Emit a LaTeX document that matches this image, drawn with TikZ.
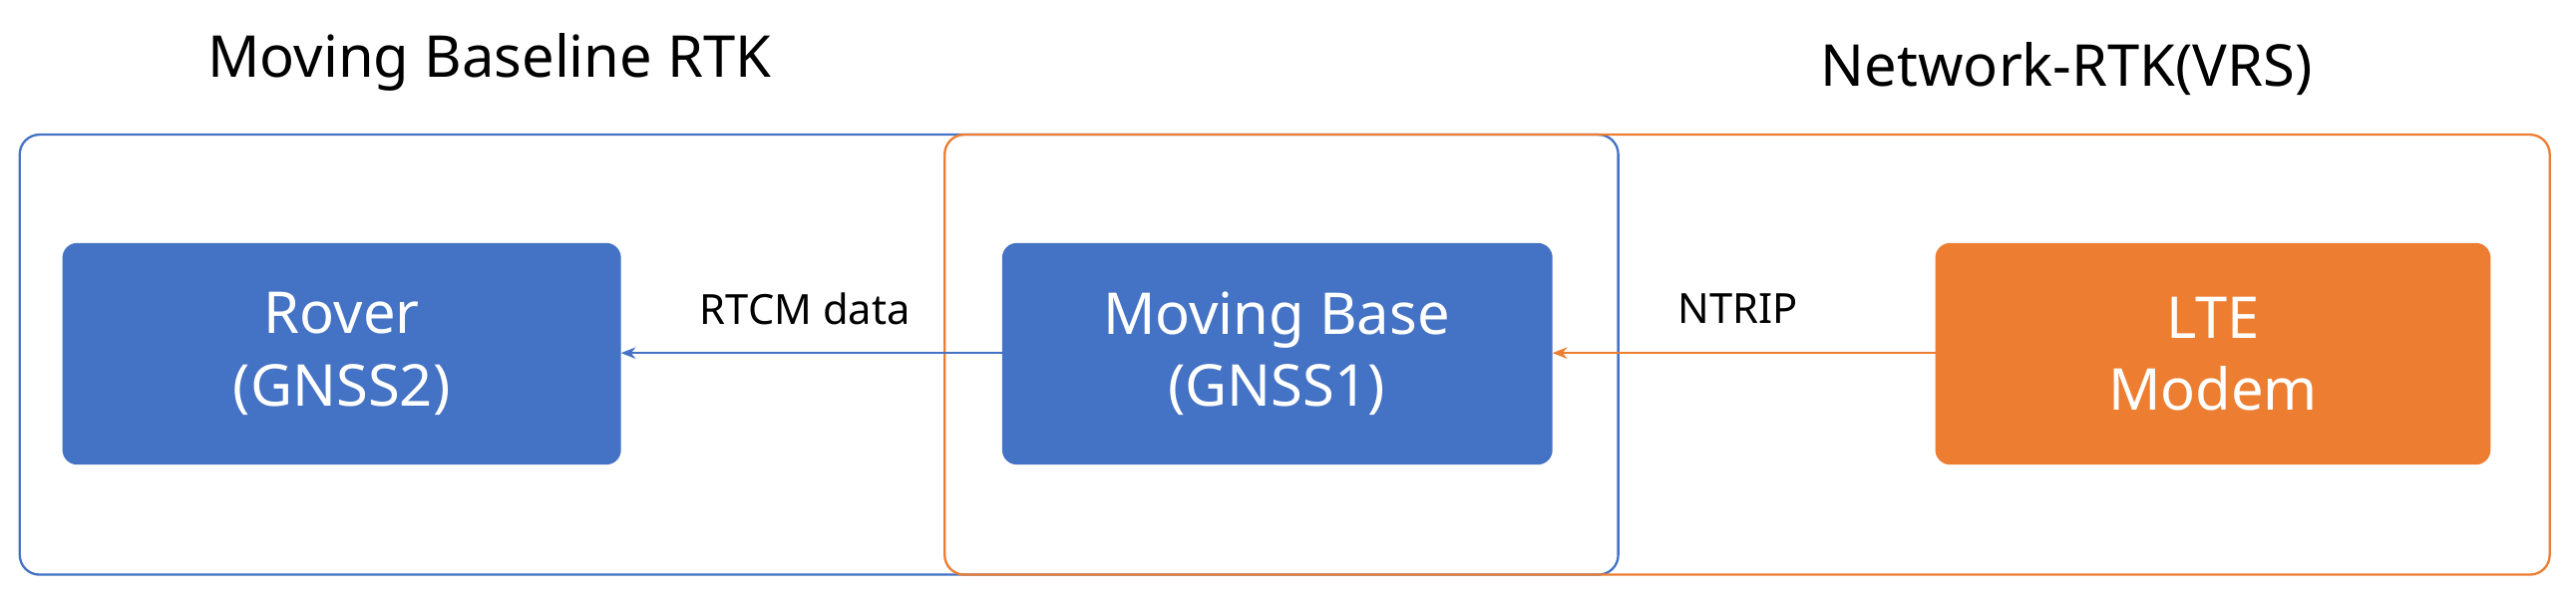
\documentclass[tikz,border=0pt]{standalone}
\usepackage{fontspec}
\setmainfont{Noto Sans}
\usetikzlibrary{arrows.meta}
\definecolor{bl}{HTML}{4472C4}
\definecolor{og}{HTML}{ED7D31}
\begin{document}
\begin{tikzpicture}[x=0.1cm,y=-0.1cm,
 frame/.style={draw,line width=4pt,rounded corners=1.2cm},
 blk/.style={rounded corners=0.9cm,text=white,align=center,font=\fontsize{100}{125}\selectfont},
 ttl/.style={font=\fontsize{100}{120}\selectfont},
 lbl/.style={font=\fontsize{72}{86}\selectfont},
 arr/.style={-{Stealth[length=0.9cm,width=0.7cm]},line width=3pt}]
\useasboundingbox (0,0) rectangle (1568,366);
\draw[frame,bl] (12,82) rectangle (985,350);
\draw[frame,og] (575,82) rectangle (1552,350);
\node[ttl] (t1) at (298,38) {Moving Baseline RTK};
\node[ttl] (t2) at (1258,42) {Network-RTK(VRS)};
\path[fill=bl,blk] (38,148) rectangle (378,283);
\node[blk,fill=none] (rover) at (208,215.5) {Rover\\(GNSS2)};
\path[fill=bl,blk] (610,148) rectangle (945,283);
\node[blk,fill=none] (mb) at (777,215.5) {Moving Base\\(GNSS1)};
\path[fill=og,blk] (1178,148) rectangle (1516,283);
\node[blk,fill=none] (lte) at (1347,215.5) {LTE\\Modem};
\coordinate (rr) at (378,215);
\coordinate (ml) at (610,215);
\coordinate (mr) at (945,215);
\coordinate (ll) at (1178,215);
\draw[arr,bl] (ml) -- (rr);
\draw[arr,og] (ll) -- (mr);
\node[lbl] (l1) at (490,188) {RTCM data};
\node[lbl] (l2) at (1058,188) {NTRIP};
\end{tikzpicture}
\end{document}
